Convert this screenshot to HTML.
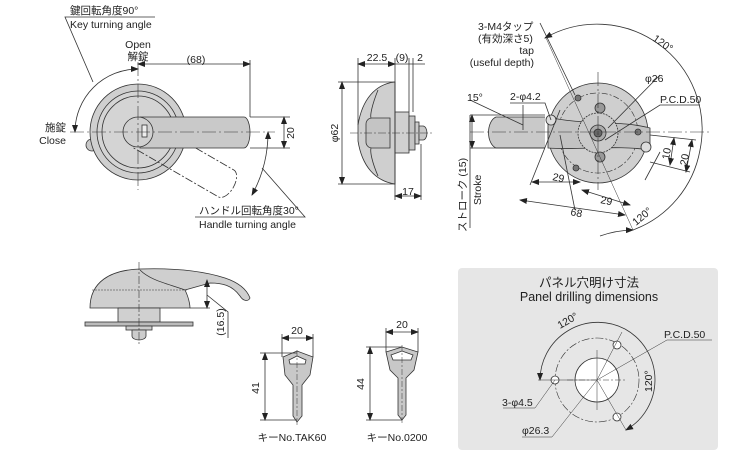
<!DOCTYPE html>
<html><head><meta charset="utf-8"><style>
html,body{margin:0;padding:0;background:#fff;}
svg{display:block;font-family:"Liberation Sans","Noto Sans CJK JP",sans-serif;}
</style></head><body>
<svg width="750" height="450" viewBox="0 0 750 450" xmlns="http://www.w3.org/2000/svg">
<defs>
<marker id="a" markerWidth="8" markerHeight="6" refX="7" refY="3" orient="auto-start-reverse" markerUnits="userSpaceOnUse"><path d="M0,0 L8,3 L0,6 z" fill="#222"/></marker>
</defs>
<g stroke="#333" stroke-width="0.8" fill="none">

<circle cx="92" cy="145" r="6" fill="#c8c8c8"/>
<circle cx="138" cy="132" r="48" fill="#cfcfcf"/>
<circle cx="138" cy="132" r="41" fill="#d4d4d4"/>
<circle cx="138" cy="132" r="36" fill="#d4d4d4"/>
<g transform="rotate(30 138 132)" stroke-dasharray="8 2 2 2"><path d="M140,117 H240 a8,15 0 0 1 0,31 H140"/></g>
<path d="M140,117 H244 a6,15.5 0 0 1 0,31 H140 z" fill="#c9c9c9"/>
<circle cx="138" cy="132" r="15" fill="#d0d0d0"/>
<rect x="142" y="125" width="5" height="12" fill="#eee"/>
<g stroke-dasharray="14 3 2 3" stroke-width="0.6"><line x1="138" y1="62" x2="138" y2="190"/><line x1="70" y1="132" x2="275" y2="132"/></g>
<path d="M138,69 A63,63 0 0 0 75,132" marker-start="url(#a)" marker-end="url(#a)"/>
<path d="M268,132 A130,130 0 0 1 252,195" marker-start="url(#a)" marker-end="url(#a)"/>
<line x1="138" y1="64" x2="250" y2="64" marker-start="url(#a)" marker-end="url(#a)"/>
<line x1="250" y1="60" x2="250" y2="117"/>
<line x1="250" y1="117" x2="290" y2="117"/><line x1="250" y1="148" x2="290" y2="148"/>
<line x1="284" y1="117" x2="284" y2="148" marker-start="url(#a)" marker-end="url(#a)"/>
<polyline points="155,17 65,17 93,82"/>
<polyline points="262,168 305,217 195,217"/>

<path d="M395,82 C375,84 362,100 358,125 L358,141 C362,166 375,181 395,184 Z" fill="#cfcfcf"/>
<path d="M372,118 h18 v30 h-18 a6,6 0 0 1 -6,-6 v-18 a6,6 0 0 1 6,-6z" fill="#c4c4c4"/>
<path d="M378,90 C372,105 370,115 371,118 M378,176 C372,162 370,152 371,148"/>
<rect x="395" y="112" width="14" height="41" fill="#d0d0d0"/>
<rect x="409" y="116" width="6" height="34" fill="#c4c4c4"/>
<rect x="415" y="122" width="4" height="22" fill="#ccc"/>
<path d="M419,126 h4 a4,7 0 0 1 0,14 h-4 z" fill="#c8c8c8"/>
<line x1="350" y1="133" x2="432" y2="133" stroke-dasharray="8 2 2 2" stroke-width="0.6"/>
<line x1="358" y1="58" x2="358" y2="125"/><line x1="395" y1="58" x2="395" y2="200"/>
<line x1="409" y1="58" x2="409" y2="112"/><line x1="413" y1="58" x2="413" y2="112"/>
<line x1="421" y1="144" x2="421" y2="200"/>
<line x1="358" y1="64" x2="395" y2="64" marker-start="url(#a)" marker-end="url(#a)"/>
<line x1="395" y1="64" x2="425" y2="64"/>
<line x1="395" y1="196" x2="421" y2="196" marker-start="url(#a)" marker-end="url(#a)"/>
<line x1="338" y1="82" x2="395" y2="82"/><line x1="338" y1="184" x2="395" y2="184"/>
<line x1="342" y1="82" x2="342" y2="184" marker-start="url(#a)" marker-end="url(#a)"/>

<path d="M545,117 H496 a10,16 0 0 0 0,31 H545" fill="#c9c9c9"/>
<circle cx="598" cy="133" r="50" fill="#cfcfcf"/>
<circle cx="598" cy="133" r="40" stroke-dasharray="6 2 2 2" stroke-width="0.6"/>
<path d="M548,117 C580,125 620,120 650,128 L650,150 C620,145 580,150 548,148 Z" fill="#c2c2c2"/>
<circle cx="598" cy="133" r="20" fill="#cacaca" stroke-dasharray="2 1"/>
<circle cx="598" cy="133" r="8" fill="#aaa"/>
<circle cx="598" cy="133" r="4" fill="#666"/>
<circle cx="600" cy="108" r="5" fill="#999"/><circle cx="600" cy="157" r="5" fill="#999"/>
<circle cx="578" cy="98" r="3" fill="#777"/><circle cx="576" cy="168" r="3" fill="#777"/><circle cx="638" cy="132" r="3" fill="#777"/>
<circle cx="551" cy="120" r="5" fill="#ddd"/><circle cx="646" cy="147" r="5" fill="#ddd"/>
<g stroke-dasharray="14 3 2 3" stroke-width="0.6"><line x1="470" y1="132" x2="710" y2="132"/><line x1="598" y1="72" x2="598" y2="190"/></g>
<path d="M545,38 A105,105 0 0 1 700,150 A105,105 0 0 1 633,230" marker-start="url(#a)"/>
<path d="M600,236 A105,105 0 0 1 633,230" marker-end="url(#a)"/>
<line x1="546" y1="38" x2="633" y2="230" stroke-width="0.5"/>
<line x1="470" y1="115" x2="545" y2="115"/><line x1="470" y1="148" x2="545" y2="148"/>
<line x1="472" y1="115" x2="472" y2="148" marker-start="url(#a)" marker-end="url(#a)"/>
<line x1="470" y1="115" x2="470" y2="228"/>
<line x1="523" y1="105" x2="523" y2="130"/>
<line x1="470" y1="100" x2="523" y2="125"/>
<polyline points="510,103 545,103 551,120"/>
<polyline points="540,23 575,95"/>
<polyline points="660,75 608,128"/><polyline points="700,105 660,105 605,140"/>
<line x1="530" y1="185" x2="560" y2="110"/><line x1="645" y1="180" x2="660" y2="152"/>
<line x1="532" y1="182" x2="580" y2="182" marker-start="url(#a)" marker-end="url(#a)"/>
<line x1="582" y1="190" x2="630" y2="205" marker-start="url(#a)" marker-end="url(#a)"/>
<line x1="520" y1="200" x2="625" y2="215" marker-start="url(#a)" marker-end="url(#a)"/>
<line x1="560" y1="135" x2="575" y2="210"/>
<line x1="674" y1="138" x2="670" y2="165" marker-start="url(#a)" marker-end="url(#a)"/>
<line x1="692" y1="140" x2="686" y2="172" marker-start="url(#a)" marker-end="url(#a)"/>
<line x1="650" y1="135" x2="696" y2="140"/><line x1="650" y1="162" x2="690" y2="172"/>

<rect x="458" y="268" width="260" height="182" rx="4" fill="#e6e6e6" stroke="none"/>
<circle cx="597" cy="380" r="42" stroke-dasharray="8 2 2 2" stroke-width="0.6"/>
<circle cx="597" cy="380" r="22" fill="#fff"/>
<circle cx="555" cy="380" r="4" fill="#fff"/><circle cx="617" cy="345" r="4" fill="#fff"/><circle cx="617" cy="417" r="4" fill="#fff"/>
<path d="M625,329 A58,58 0 0 0 540,380" marker-end="url(#a)"/>
<path d="M625,329 A58,58 0 0 1 626,430" marker-end="url(#a)"/>
<g stroke-width="0.5"><line x1="597" y1="350" x2="597" y2="410"/><line x1="567" y1="380" x2="627" y2="380" stroke-dasharray="6 2 2 2"/>
<line x1="597" y1="380" x2="622" y2="332"/><line x1="597" y1="380" x2="626" y2="430"/><line x1="597" y1="380" x2="538" y2="380"/>
<polyline points="597,380 667,340 712,340"/>
<polyline points="555,380 535,408 503,408"/>
<polyline points="597,380 552,437 522,437"/></g>

<path d="M90,308 C90,282 110,270 140,269 C170,268 200,270 225,278 C240,283 247,290 250,298 C248,302 243,301 240,296 C232,285 222,283 210,283 L185,290 C190,300 190,308 190,308 Z" fill="#cfcfcf"/>
<path d="M92,290 H188" stroke-dasharray="2 1" stroke-width="0.5"/>
<path d="M140,270 C150,280 165,283 185,290"/>
<rect x="118" y="308" width="42" height="14" fill="#d0d0d0"/>
<rect x="85" y="322" width="108" height="4" fill="#bbb"/>
<rect x="126" y="326" width="26" height="4" fill="#ccc"/>
<path d="M132,330 h14 v6 a7,4 0 0 1 -14,0z" fill="#ccc"/>
<line x1="139" y1="262" x2="139" y2="344" stroke-dasharray="8 2 2 2" stroke-width="0.6"/>
<line x1="190" y1="308" x2="210" y2="308"/>
<line x1="207" y1="280" x2="207" y2="308" marker-start="url(#a)" marker-end="url(#a)"/>
<polyline points="207,295 228,312 228,338"/>

<path d="M283,357 L297,351 L313,357 L310,375 L302,385 L302,416 L297,422 L293,416 L293,385 L285,375 Z" fill="#c8c8c8"/>
<path d="M289,360 L297,356 L306,360 L305,364 L290,364 Z" fill="#fff"/>
<line x1="297" y1="350" x2="297" y2="425" stroke-dasharray="6 2 2 2" stroke-width="0.5"/>
<line x1="282" y1="334" x2="282" y2="357"/><line x1="313" y1="334" x2="313" y2="357"/>
<line x1="282" y1="338" x2="313" y2="338" marker-start="url(#a)" marker-end="url(#a)"/>
<line x1="260" y1="353" x2="297" y2="353"/><line x1="260" y1="420" x2="297" y2="420"/>
<line x1="265" y1="353" x2="265" y2="420" marker-start="url(#a)" marker-end="url(#a)"/>

<path d="M386,352 L402,347 L418,352 L414,370 L406,378 L406,415 L402,420 L398,415 L398,378 L390,370 Z" fill="#c8c8c8"/>
<path d="M391,355 L402,351 L413,355 L411,360 L393,360 Z" fill="#fff"/>
<line x1="402" y1="345" x2="402" y2="424" stroke-dasharray="6 2 2 2" stroke-width="0.5"/>
<line x1="386" y1="328" x2="386" y2="352"/><line x1="418" y1="328" x2="418" y2="352"/>
<line x1="386" y1="332" x2="418" y2="332" marker-start="url(#a)" marker-end="url(#a)"/>
<line x1="366" y1="347" x2="402" y2="347"/><line x1="366" y1="420" x2="402" y2="420"/>
<line x1="370" y1="347" x2="370" y2="420" marker-start="url(#a)" marker-end="url(#a)"/>
</g>

<g fill="#222" font-size="10.5">
<text x="70" y="14">鍵回転角度90°</text>
<text x="70" y="28">Key turning angle</text>
<text x="138" y="48" text-anchor="middle">Open</text>
<text x="138" y="60" text-anchor="middle">解錠</text>
<text x="66" y="131" text-anchor="end">施錠</text>
<text x="66" y="144" text-anchor="end">Close</text>
<text x="196" y="63" text-anchor="middle">(68)</text>
<text transform="translate(294,133) rotate(-90)" text-anchor="middle">20</text>
<text x="199" y="214">ハンドル回転角度30°</text>
<text x="199" y="228">Handle turning angle</text>
<text x="377" y="61" text-anchor="middle">22.5</text>
<text x="402" y="61" text-anchor="middle">(9)</text>
<text x="420" y="61" text-anchor="middle">2</text>
<text transform="translate(338,133) rotate(-90)" text-anchor="middle">φ62</text>
<text x="408" y="195" text-anchor="middle">17</text>
<text x="478" y="30">3-M4タップ</text>
<text x="478" y="42">(有効深さ5)</text>
<text x="534" y="54" text-anchor="end">tap</text>
<text x="534" y="66" text-anchor="end">(useful depth)</text>
<text x="467" y="101">15°</text>
<text x="510" y="100">2-φ4.2</text>
<text x="645" y="82">φ26</text>
<text x="660" y="103">P.C.D.50</text>
<text transform="translate(652,40) rotate(35)">120°</text>
<text transform="translate(636,226) rotate(-40)">120°</text>
<text transform="translate(669,160) rotate(-80)">10</text>
<text transform="translate(687,166) rotate(-80)">20</text>
<text transform="translate(552,180) rotate(12)">29</text>
<text transform="translate(600,203) rotate(12)">29</text>
<text transform="translate(570,215) rotate(12)">68</text>
<text transform="translate(466,232) rotate(-90)">ストローク (15)</text>
<text transform="translate(481,205) rotate(-90)">Stroke</text>
<text x="589" y="287" text-anchor="middle" font-size="12.5">パネル穴明け寸法</text>
<text x="589" y="301" text-anchor="middle" font-size="12.5">Panel drilling dimensions</text>
<text transform="translate(560,329) rotate(-30)">120°</text>
<text x="664" y="338">P.C.D.50</text>
<text transform="translate(652,392) rotate(-90)">120°</text>
<text x="502" y="406">3-φ4.5</text>
<text x="522" y="434">φ26.3</text>
<text transform="translate(224,322) rotate(-90)" text-anchor="middle">(16.5)</text>
<text x="297" y="334" text-anchor="middle">20</text>
<text transform="translate(259,388) rotate(-90)" text-anchor="middle">41</text>
<text x="292" y="441" text-anchor="middle">キーNo.TAK60</text>
<text x="402" y="328" text-anchor="middle">20</text>
<text transform="translate(364,384) rotate(-90)" text-anchor="middle">44</text>
<text x="397" y="441" text-anchor="middle">キーNo.0200</text>
</g>
</svg>
</body></html>
